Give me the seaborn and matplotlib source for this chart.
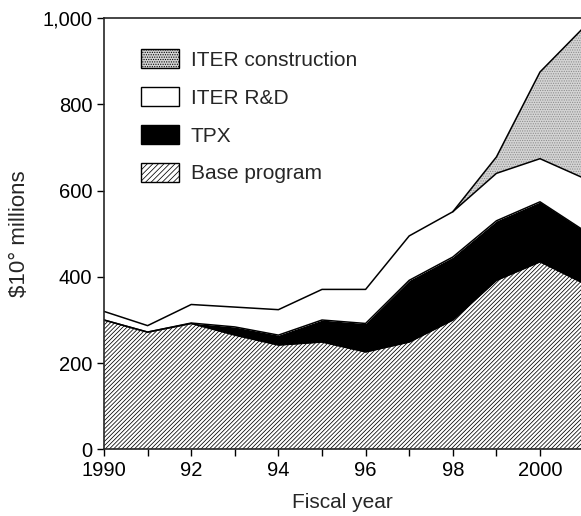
import numpy as np
import pandas as pd
import seaborn as sns
import matplotlib
matplotlib.use("Agg")
import matplotlib.pyplot as plt
from matplotlib.patches import Patch
from matplotlib.ticker import FuncFormatter

# Fiscal years and budget components ($ millions)
years = [1990, 1991, 1992, 1993, 1994, 1995, 1996, 1997, 1998, 1999, 2000, 2001]
base_program = [300, 272, 292, 265, 242, 249, 226, 249, 300, 392, 435, 385]
tpx = [0, 0, 1, 19, 23, 51, 66, 143, 146, 138, 139, 123]
iter_rd = [20, 15, 43, 46, 59, 71, 79, 103, 105, 110, 100, 121]
iter_construction = [0, 0, 0, 0, 0, 0, 0, 0, 0, 38, 201, 349]

series_names = ["Base program", "TPX", "ITER R&D", "ITER construction"]
x_tick_years = [1990, 1992, 1994, 1996, 1998, 2000]
x_tick_labels = ["1990", "92", "94", "96", "98", "2000"]

sns.set_style("ticks")
plt.rcParams["font.family"] = ["Liberation Sans", "DejaVu Sans"]
plt.rcParams["hatch.linewidth"] = 0.55

fig = plt.figure(figsize=(5.81, 5.16), dpi=100)
ax = fig.add_axes([0.179, 0.129, 0.821, 0.836])

stacks = [base_program, tpx, iter_rd, iter_construction]
faces = ["white", "black", "white", "#d4d4d4"]
hatches = ["////////", None, None, "......."]
hatch_cols = ["black", "black", "white", "#8c8c8c"]

polys = ax.stackplot(years, *stacks, colors=faces, linewidth=0)
for p, h, ec in zip(polys, hatches, hatch_cols):
    p.set_edgecolor(ec)
    if h:
        p.set_hatch(h)

# boundary lines of the stacked areas
cum = np.cumsum(np.array(stacks), axis=0)
df = pd.DataFrame({"year": years * 4,
                   "top": np.concatenate(cum),
                   "layer": np.repeat(series_names, len(years))})
df = df[~((df["layer"] == "ITER construction") & (df["year"] < 1998))]
sns.lineplot(data=df, x="year", y="top", units="layer", estimator=None,
             color="black", linewidth=1.1, ax=ax, legend=False)

ax.set_xlim(1990, 2000.94)
ax.set_ylim(0, 1000)
ax.set_xticks(years[:-1])
ax.set_xticklabels([x_tick_labels[x_tick_years.index(y)] if y in x_tick_years else "" for y in years[:-1]])
ax.set_yticks([0, 200, 400, 600, 800, 1000])
ax.yaxis.set_major_formatter(FuncFormatter(lambda v, p: f"{int(v):,}"))
ax.tick_params(axis="both", labelsize=14.5, length=5, width=1, direction="out", colors="black")
for s in ["left", "bottom", "top"]:
    ax.spines[s].set_visible(True)
    ax.spines[s].set_linewidth(1.2)
ax.spines["right"].set_visible(False)

ax.set_xlabel("Fiscal year", fontsize=15, labelpad=9)
ax.set_ylabel("$10° millions", fontsize=16, labelpad=9)

handles = [Patch(facecolor="#d4d4d4", edgecolor="black", hatch=".......", label="ITER construction"),
           Patch(facecolor="white", edgecolor="black", label="ITER R&D"),
           Patch(facecolor="black", edgecolor="black", label="TPX"),
           Patch(facecolor="white", edgecolor="black", hatch="//////", label="Base program")]
ax.legend(handles=handles, loc="upper left", bbox_to_anchor=(0.0776, 0.928), frameon=False,
          borderpad=0, borderaxespad=0, fontsize=15, handlelength=1.8, handleheight=1.05,
          labelspacing=0.82, handletextpad=0.58)

fig.savefig("out.png", dpi=100)
